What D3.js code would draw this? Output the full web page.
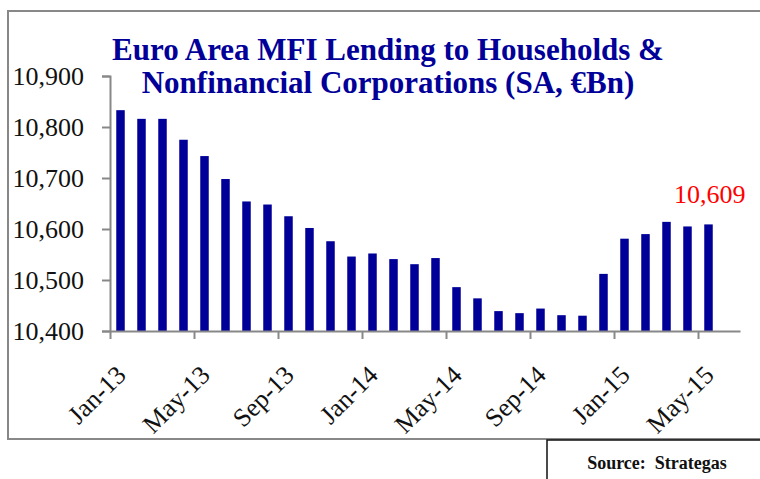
<!DOCTYPE html>
<html>
<head>
<meta charset="utf-8">
<script src="https://cdn.jsdelivr.net/npm/d3@7"></script>
<style>
  body { margin: 0; background: #fff; }
  svg { display: block; }
  text { font-family: "Liberation Serif", "Times New Roman", serif; }
</style>
</head>
<body>
<svg id="chart"></svg>
<script>
// monthly lending, Jan-13 .. May-15 (EUR bn)
const months = ["Jan-13", "Feb-13", "Mar-13", "Apr-13", "May-13", "Jun-13", "Jul-13", "Aug-13",
    "Sep-13", "Oct-13", "Nov-13", "Dec-13", "Jan-14", "Feb-14", "Mar-14", "Apr-14", "May-14",
    "Jun-14", "Jul-14", "Aug-14", "Sep-14", "Oct-14", "Nov-14", "Dec-14", "Jan-15", "Feb-15",
    "Mar-15", "Apr-15", "May-15"];
const values = [10833, 10816, 10816, 10775, 10743, 10698, 10654, 10648, 10625, 10602,
    10576, 10546, 10552, 10541, 10531, 10543, 10486, 10464, 10439, 10435, 10444, 10431,
    10430, 10512, 10581, 10590, 10614, 10605, 10609];
const yTicks = [10400, 10500, 10600, 10700, 10800, 10900];
const xTickLabels = ["Jan-13", "May-13", "Sep-13", "Jan-14", "May-14", "Sep-14", "Jan-15", "May-15"];
const nSlots = 30; // axis runs one month past the last bar
const titleLines = ["Euro Area MFI Lending to Households &", "Nonfinancial Corporations (SA, €Bn)"];
const lastLabel = "10,609";

const width = 760, height = 479;
const navy = "#000099";

const svg = d3.select("#chart")
    .attr("width", width)
    .attr("height", height)
    .attr("viewBox", [0, 0, width, height]);

// outer frame and source box
svg.append("rect")
    .attr("x", 8).attr("y", 11)
    .attr("width", 780).attr("height", 428)
    .attr("fill", "none")
    .attr("stroke", "#888").attr("stroke-width", 2);

svg.append("rect")
    .attr("x", 547).attr("y", 440)
    .attr("width", 240).attr("height", 60)
    .attr("fill", "none")
    .attr("stroke", "#111").attr("stroke-width", 1.5);

svg.append("text")
    .attr("x", 657).attr("y", 469)
    .attr("text-anchor", "middle")
    .attr("font-size", 18).attr("font-weight", "bold")
    .attr("fill", "#111")
    .attr("xml:space", "preserve")
    .text("Source:  Strategas");

const x = d3.scaleLinear().domain([0, nSlots]).range([110, 740]);
const y = d3.scaleLinear().domain([10400, 10900]).range([331, 76]);

// y axis
const yAxis = svg.append("g")
    .attr("transform", `translate(${x(0)},0)`)
    .call(d3.axisLeft(y).tickValues(yTicks).tickFormat(d3.format(",")).tickSize(8).tickPadding(18));
yAxis.select(".domain").attr("stroke", "#888").attr("stroke-width", 2);
yAxis.selectAll(".tick line").attr("stroke", "#888").attr("stroke-width", 2);
yAxis.selectAll(".tick text")
    .attr("font-family", "Liberation Serif, serif")
    .attr("font-size", 26).attr("fill", "#111");

// bars
const barW = 8.5;
svg.append("g")
    .selectAll("rect")
    .data(values)
    .join("rect")
    .attr("x", (d, i) => x(i + 0.5) - barW / 2)
    .attr("y", d => y(d))
    .attr("width", barW)
    .attr("height", d => y(10400) - y(d))
    .attr("fill", navy);

// x axis
const tickIdx = xTickLabels.map(l => months.indexOf(l));
const xAxis = svg.append("g")
    .attr("transform", `translate(0,${y(10400)})`)
    .call(d3.axisBottom(x).tickValues(tickIdx).tickFormat("").tickSize(8).tickSizeOuter(0));
xAxis.select(".domain").attr("stroke", "#888").attr("stroke-width", 2);
xAxis.selectAll(".tick line").attr("stroke", "#888").attr("stroke-width", 2);

svg.append("g")
    .selectAll("text")
    .data(xTickLabels)
    .join("text")
    .attr("transform", (d, i) => `translate(${x(tickIdx[i]) + 11},${y(10400) + 39}) rotate(-45)`)
    .attr("text-anchor", "end")
    .attr("dy", "0.35em")
    .attr("font-size", 26)
    .attr("fill", "#111")
    .text(d => d);

// latest value label
svg.append("text")
    .attr("x", x(months.length - 0.5) + 37)
    .attr("y", y(values[values.length - 1]) - 21)
    .attr("text-anchor", "end")
    .attr("font-size", 26)
    .attr("fill", "#ff0000")
    .text(lastLabel);

// title
svg.append("g")
    .selectAll("text")
    .data(titleLines)
    .join("text")
    .attr("x", 388)
    .attr("y", (d, i) => 60 + i * 33)
    .attr("text-anchor", "middle")
    .attr("font-size", 31)
    .attr("font-weight", "bold")
    .attr("fill", navy)
    .text(d => d);
</script>
</body>
</html>
